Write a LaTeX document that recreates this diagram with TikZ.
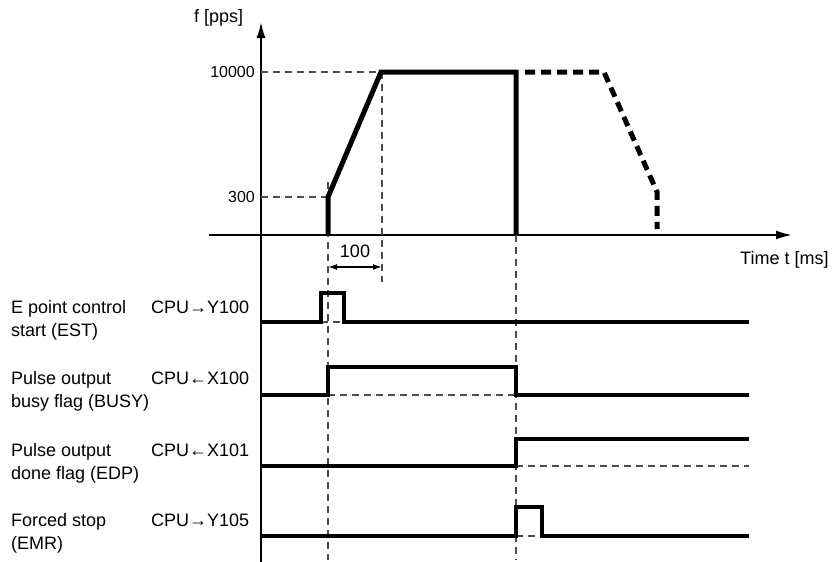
\documentclass[tikz,border=0pt]{standalone}
\usepackage{fontspec}
\setmainfont{Liberation Sans}
\usetikzlibrary{arrows.meta}

\begin{document}
\begin{tikzpicture}
  [x=1pt, y=-1pt, font=\fontsize{18}{22}\selectfont,
   sig/.style={line width=4pt, line join=miter},
   axis/.style={line width=2pt, -{Latex[length=16pt,width=9pt]}},
   guide/.style={line width=1.2pt, dash pattern=on 7pt off 5pt, black!70},
   dim/.style={line width=1.5pt, {Latex[length=9pt,width=6pt]}-{Latex[length=9pt,width=6pt]}},
   lbl/.style={anchor=base west, inner sep=0pt},
   tick/.style={anchor=east, inner sep=0pt, font=\fontsize{16}{18}\selectfont}]
  \useasboundingbox (0,0) rectangle (833,562);

  % axes
  \coordinate (ybot) at (261,562);
  \coordinate (ytop) at (261,22);
  \coordinate (xleft) at (209,235);
  \coordinate (xright) at (792,235);
  \draw[axis] (ybot) -- (ytop);
  \draw[axis] (xleft) -- (xright);

  \node[lbl] (fl) at (194,22) {f [pps]};
  \node[lbl] (tl) at (740,264) {Time t [ms]};
  \node[tick] (fmax) at (255,72) {10000};
  \node[tick] (fmin) at (255,197) {300};

  % guide lines
  \draw[guide] (261,72) -- (381,72);
  \draw[guide] (261,197) -- (328,197);
  \draw[guide] (328,182) -- (328,560);
  \draw[guide] (382,72) -- (382,282);
  \draw[guide] (516,235) -- (516,560);
  \draw[guide] (321,322) -- (344,322);
  \draw[guide] (328,395) -- (516,395);
  \draw[guide] (516,466) -- (749,466);
  \draw[guide] (516,536) -- (542,536);

  % speed profile
  \draw[sig, line width=5pt] (328,235) -- (328,197) -- (381,72) -- (516,72) -- (516,235);
  \draw[line width=5pt, dash pattern=on 10pt off 6pt]
    (525,72) -- (604,72) -- (657,192) -- (657,229);

  % acceleration time
  \coordinate (d0) at (328,267);
  \coordinate (d1) at (382,267);
  \draw[dim] (d0) -- (d1);
  \node[lbl, anchor=base] (span) at (355,257) {100};

  % timing signals
  \draw[sig] (261,322) -- (321,322) -- (321,293) -- (344,293) -- (344,322) -- (749,322);
  \draw[sig] (261,395) -- (328,395) -- (328,367) -- (516,367) -- (516,395) -- (749,395);
  \draw[sig] (261,466) -- (516,466) -- (516,439) -- (749,439);
  \draw[sig] (261,536) -- (516,536) -- (516,507) -- (542,507) -- (542,536) -- (749,536);

  \foreach \y/\first/\second/\io [count=\i] in
    {313/E point control/{start (EST)}/CPU→Y100,
     384/Pulse output/{busy flag (BUSY)}/CPU←X100,
     456/Pulse output/{done flag (EDP)}/CPU←X101,
     526/Forced stop/{(EMR)}/CPU→Y105}
  {
    \node[lbl] (head\i) at (11,\y) {\first};
    \node[lbl] (tail\i) at (11,\y+23) {\second};
    \node[lbl] (io\i) at (151,\y) {\io};
  }
\end{tikzpicture}
\end{document}
